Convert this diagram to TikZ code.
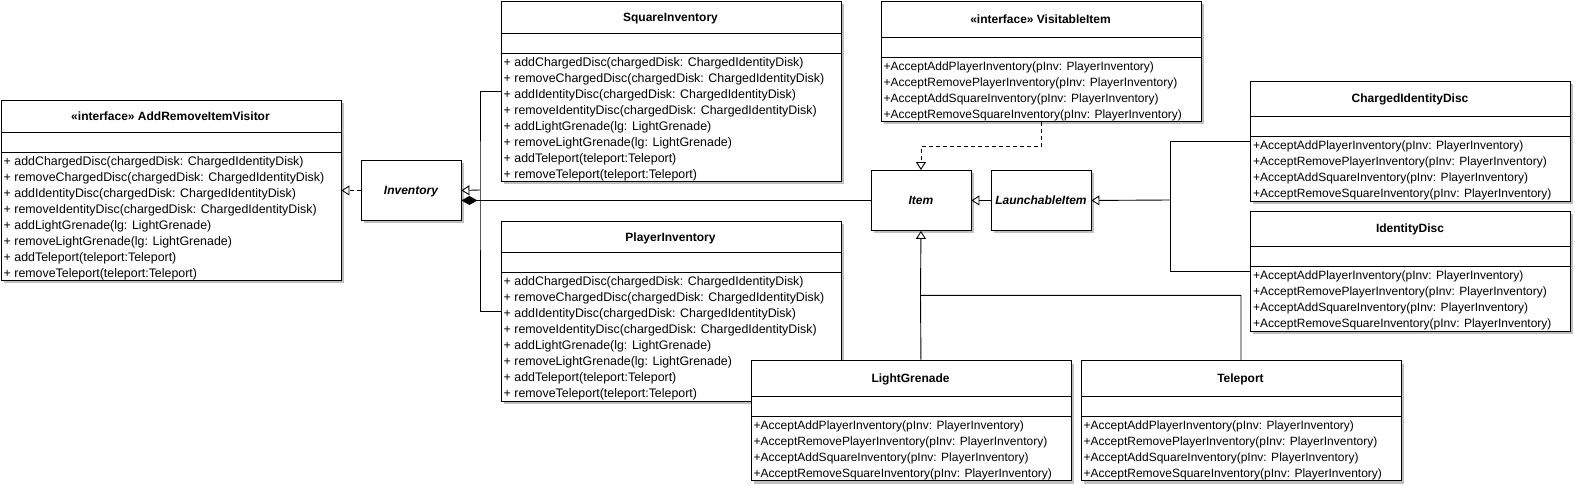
\documentclass[tikz,border=0pt]{standalone}
\usepackage{fontspec}
\setmainfont{Liberation Sans}
\usetikzlibrary{arrows.meta,shadows}

\newcommand{\inventorymethods}{+ addChargedDisc(chargedDisk: ChargedIdentityDisk), + removeChargedDisc(chargedDisk: ChargedIdentityDisk), + addIdentityDisc(chargedDisk: ChargedIdentityDisk), + removeIdentityDisc(chargedDisk: ChargedIdentityDisk), + addLightGrenade(lg: LightGrenade), + removeLightGrenade(lg: LightGrenade), + addTeleport(teleport:Teleport), + removeTeleport(teleport:Teleport)}
\newcommand{\acceptmethods}{+AcceptAddPlayerInventory(pInv: PlayerInventory), +AcceptRemovePlayerInventory(pInv: PlayerInventory), +AcceptAddSquareInventory(pInv: PlayerInventory), +AcceptRemoveSquareInventory(pInv: PlayerInventory)}

\begin{document}
\begin{tikzpicture}[x=1pt, y=-1pt,
    umlbox/.style={draw, fill=white, line width=0.9pt, inner sep=0pt, anchor=north west,
      drop shadow={shadow xshift=3pt, shadow yshift=-3pt, fill=black!25, opacity=1}},
    abox/.style={umlbox, minimum width=100, minimum height=60, text depth=0pt,
      font=\fontsize{12}{14}\selectfont\bfseries\itshape},
    cname/.style={anchor=base, inner sep=0pt, font=\fontsize{12}{14}\selectfont\bfseries},
    meth/.style={anchor=base west, inner sep=0pt, font=\fontsize{12}{14}\selectfont},
    imeth/.style={meth, font=\fontsize{12.4}{14}\selectfont},
    sep/.style={line width=0.9pt},
    link/.style={line width=0.9pt},
    gen/.style={link, -{Triangle[open, length=8pt, width=10pt]}},
    real/.style={gen, dash pattern=on 4pt off 3pt},
    comp/.style={link, {Diamond[length=16pt, width=9pt]}-}]

  \useasboundingbox (0,0) rectangle (1575,485);

  % inventories
  \foreach \b/\bx/\by/\bt in {arv/0.5/100/{«interface» AddRemoveItemVisitor},
      sqinv/500.5/1/SquareInventory, plinv/500.5/220.5/PlayerInventory} {
    \node[umlbox, minimum width=340, minimum height=180] (\b) at (\bx,\by) {};
    \draw[sep] (\b.north west) ++(0,32) -- ++(340,0) ++(-340,20) -- ++(340,0);
    \node[cname] (\b-t) at (\bx+170,\by+20.7) {\bt};
    \foreach \m [count=\i] in \inventorymethods
      \node[imeth] (\b-m\i) at (\bx+3,\by+49+16*\i) {\m};
  }

  % items
  \foreach \b/\bx/\by/\bt in {vi/880.5/1/{«interface» VisitableItem},
      cid/1250/80.5/ChargedIdentityDisc, idd/1250/210.5/IdentityDisc,
      lg/750.5/360.3/LightGrenade, tp/1080.5/360.3/Teleport} {
    \node[umlbox, minimum width=320, minimum height=120] (\b) at (\bx,\by) {};
    \draw[sep] (\b.north west) ++(0,36) -- ++(320,0) ++(-320,20) -- ++(320,0);
    \node[cname] (\b-t) at (\bx+160,\by+22) {\bt};
    \foreach \m [count=\i] in \acceptmethods
      \node[meth] (\b-m\i) at (\bx+3,\by+53+16*\i) {\m};
  }

  \node[abox] (inv) at (360.5,160) {Inventory};
  \node[abox] (item) at (870.5,170) {Item};
  \node[abox] (launch) at (990.5,170) {LaunchableItem};

  \coordinate (invjoin) at (480,190);
  \coordinate (lijoin) at (1170,200);
  \coordinate (itjoin) at (920.5,295.3);

  \draw[real] (inv.west) -- (arv.east);
  \draw[link] (sqinv.west) -| (invjoin) |- (plinv.west);
  \draw[gen] (invjoin) -- (inv.east);
  \draw[comp] (inv.east |- item.west) -- (item.west);
  \draw[real] (vi.south) -- ++(0,25) -| (item.north);
  \draw[gen] (launch.west) -- (item.east);
  \draw[link] (cid.west) -| (lijoin) |- (idd.west);
  \draw[gen] (lijoin) -- (launch.east);
  \draw[link] (tp.north) |- (itjoin) -- (item.south |- lg.north);
  \draw[gen] (itjoin) -- (item.south);

\end{tikzpicture}
\end{document}
